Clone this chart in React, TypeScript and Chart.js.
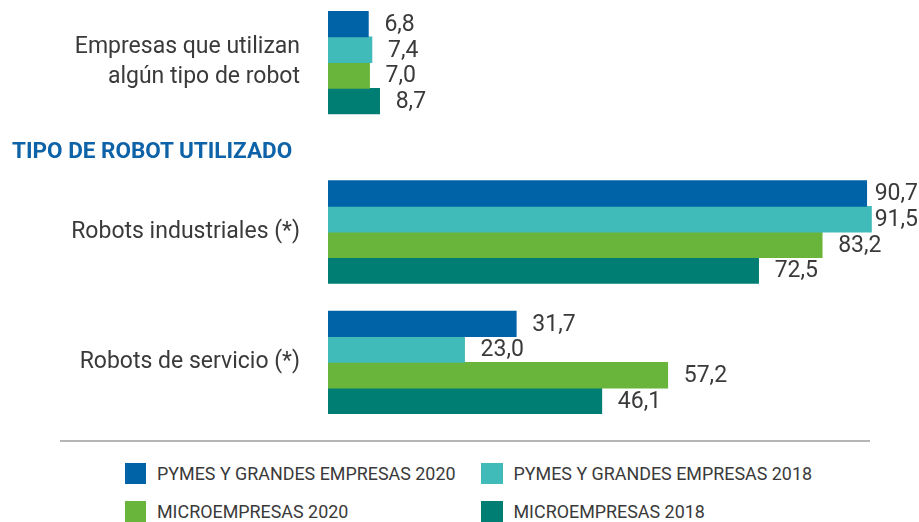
import React, { useEffect, useRef } from 'react';
import { Chart, registerables } from 'chart.js';

Chart.register(...registerables);

// ---- data ----
const categories: string[][] = [
  ['Empresas que utilizan', 'algún tipo de robot'],
  ['Robots industriales (*)'],
  ['Robots de servicio (*)'],
];
const seriesNames = [
  'PYMES Y GRANDES EMPRESAS 2020',
  'PYMES Y GRANDES EMPRESAS 2018',
  'MICROEMPRESAS 2020',
  'MICROEMPRESAS 2018',
];
const pymes2020 = [6.8, 90.7, 31.7];
const pymes2018 = [7.4, 91.5, 23.0];
const micro2020 = [7.0, 83.2, 57.2];
const micro2018 = [8.7, 72.5, 46.1];
const sectionTitle = 'TIPO DE ROBOT UTILIZADO';

// ---- layout / style ----
const rowPositions = [0, 1.3, 2.3];
const colors = ['#0063a7', '#41bbb9', '#69b43a', '#007e74'];
const textColor = '#3a3a3a';
const FONT = 'Roboto, "Noto Sans", sans-serif';

const fmt = (v: number) => v.toFixed(1).replace('.', ',');

const valueLabels = {
  id: 'valueLabels',
  afterDatasetsDraw(chart: any) {
    const ctx = chart.ctx;
    ctx.save();
    ctx.font = `23px ${FONT}`;
    ctx.fillStyle = textColor;
    ctx.textBaseline = 'middle';
    ctx.textAlign = 'left';
    chart.data.datasets.forEach((ds: any, di: number) => {
      const meta = chart.getDatasetMeta(di);
      meta.data.forEach((bar: any, i: number) => {
        const txt = fmt(ds.data[i].x);
        const w = ctx.measureText(txt).width;
        const x = Math.min(bar.x + 16, chart.width - 1 - w);
        ctx.fillText(txt, x, bar.y + 1);
      });
    });
    ctx.restore();
  },
};

export default function App() {
  const ref = useRef<HTMLCanvasElement | null>(null);

  useEffect(() => {
    if (!ref.current) return;
    const series = [pymes2020, pymes2018, micro2020, micro2018];
    const chart = new Chart(ref.current, {
      type: 'bar',
      data: {
        datasets: series.map((vals, si) => ({
          label: seriesNames[si],
          data: vals.map((v, i) => ({ x: v, y: rowPositions[i] })),
          backgroundColor: colors[si],
          borderWidth: 0,
          barThickness: 25.7,
        })),
      },
      options: {
        indexAxis: 'y',
        responsive: false,
        animation: false,
        layout: { padding: { top: 4, bottom: 4, left: 0, right: 0 } },
        plugins: { legend: { display: false }, tooltip: { enabled: false } },
        scales: {
          x: { type: 'linear', min: 0, max: 99.5, display: false },
          y: {
            type: 'linear',
            reverse: true,
            offset: false,
            min: -0.45,
            max: 2.75,
            grid: { display: false, drawTicks: false },
            border: { display: false },
            afterBuildTicks: (s: any) => {
              s.ticks = rowPositions.map((v) => ({ value: v }));
            },
            afterFit: (s: any) => {
              s.width = 328;
              s.paddingTop = 0;
              s.paddingBottom = 0;
            },
            ticks: {
              padding: 28,
              color: textColor,
              autoSkip: false,
              font: { family: FONT, size: 23, lineHeight: 1.3 },
              callback: (_v: any, i: number) => categories[i],
            },
          },
        },
      } as any,
      plugins: [valueLabels],
    });
    return () => chart.destroy();
  }, []);

  const legendPos = [
    { sx: 124.5, ty: 462.5 },
    { sx: 481, ty: 462.5 },
    { sx: 124.5, ty: 501 },
    { sx: 481, ty: 501 },
  ];

  return (
    <div
      style={{
        position: 'absolute',
        left: 0,
        top: 0,
        width: 919,
        height: 522,
        overflow: 'hidden',
        fontFamily: FONT,
        background: '#fff',
      }}
    >
      <canvas ref={ref} width={919} height={425} style={{ display: 'block', width: 919, height: 425 }} />
      <div
        style={{
          position: 'absolute',
          left: 12,
          top: 137,
          lineHeight: '26px',
          fontSize: 22.5,
          fontWeight: 700,
          color: '#0e63a8',
          whiteSpace: 'nowrap',
        }}
      >
        {sectionTitle}
      </div>
      <div style={{ position: 'absolute', left: 60, top: 440, width: 810, height: 2, background: '#b5b5b5' }} />
      {seriesNames.map((name, i) => (
        <div key={name}>
          <div
            style={{
              position: 'absolute',
              left: legendPos[i].sx,
              top: legendPos[i].ty,
              width: 21.5,
              height: 21.5,
              background: colors[i],
            }}
          />
          <div
            style={{
              position: 'absolute',
              left: legendPos[i].sx + 32.5,
              top: legendPos[i].ty,
              height: 21.5,
              lineHeight: '21.5px',
              fontSize: 17.9,
              color: textColor,
              whiteSpace: 'nowrap',
            }}
          >
            {name}
          </div>
        </div>
      ))}
    </div>
  );
}
